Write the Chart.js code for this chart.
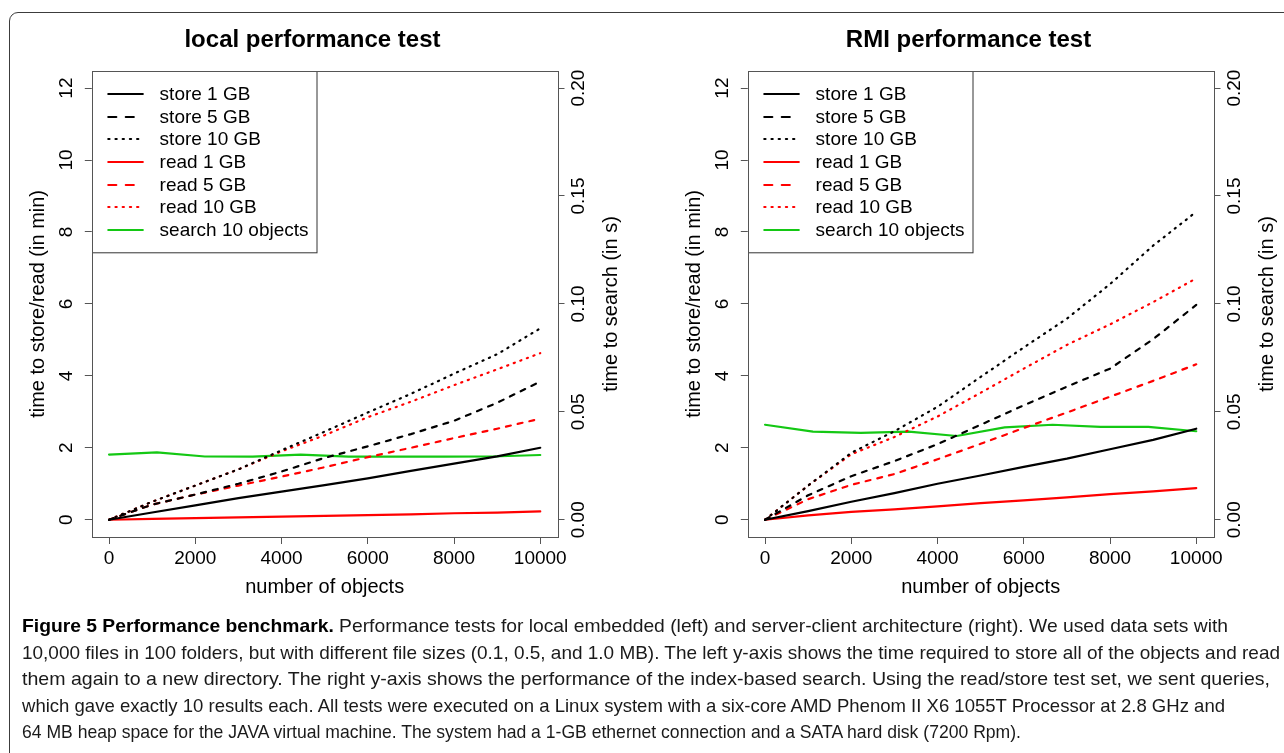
<!DOCTYPE html>
<html><head><meta charset="utf-8">
<script src="https://cdn.jsdelivr.net/npm/chart.js@4.4.1/dist/chart.umd.min.js"></script>
<style>
html,body{margin:0;padding:0;background:#fff;overflow:hidden;width:1284px;height:753px;}
#frame{position:absolute;left:9px;top:12px;width:1330px;height:800px;border:1.5px solid #3c3c3c;border-radius:9px;box-sizing:border-box;}
.panel{position:absolute;top:0;width:625px;height:620px;}
#p1{left:0px}
#p2{left:656px}
#caption{position:absolute;left:22px;top:613px;font-family:"Liberation Sans Narrow","Liberation Sans",Arial,sans-serif;font-size:18.5px;line-height:26.5px;color:#1a1a1a;}
#caption div{white-space:nowrap;transform-origin:0 0;}
#caption span.l{display:inline-block;white-space:nowrap;}
#caption b{color:#000;}
</style></head>
<body>
<div id="frame"></div>
<canvas id="p1" class="panel" width="625" height="620"></canvas>
<canvas id="p2" class="panel" width="625" height="620"></canvas>
<div id="caption">
<div><span class="l" data-w="1206"><b>Figure 5 Performance benchmark.</b> Performance tests for local embedded (left) and server-client architecture (right). We used data sets with</span></div>
<div><span class="l" data-w="1258">10,000 files in 100 folders, but with different file sizes (0.1, 0.5, and 1.0 MB). The left y-axis shows the time required to store all of the objects and read</span></div>
<div><span class="l" data-w="1248">them again to a new directory. The right y-axis shows the performance of the index-based search. Using the read/store test set, we sent queries,</span></div>
<div><span class="l" data-w="1203">which gave exactly 10 results each. All tests were executed on a Linux system with a six-core AMD Phenom II X6 1055T Processor at 2.8 GHz and</span></div>
<div><span class="l" data-w="999">64 MB heap space for the JAVA virtual machine. The system had a 1-GB ethernet connection and a SATA hard disk (7200 Rpm).</span></div>
</div>
<script>
// ---- data ----
const xObjects = [0,1000,2000,3000,4000,5000,6000,7000,8000,9000,10000];
const xSearch = [0,1111,2222,3333,4444,5556,6667,7778,8889,10000];
const xTicks = [0,2000,4000,6000,8000,10000];
const leftTicks = [0,2,4,6,8,10,12];
const rightTicks = [0,0.05,0.10,0.15,0.20];
const seriesLabels = ['store 1 GB','store 5 GB','store 10 GB','read 1 GB','read 5 GB','read 10 GB','search 10 objects'];
const panelTitles = ['local performance test','RMI performance test'];
const xTitle = 'number of objects';
const yTitle = 'time to store/read (in min)';
const y1Title = 'time to search (in s)';

// local (minutes / seconds)
const localStore1  = [0,0.20,0.40,0.60,0.78,0.96,1.15,1.36,1.56,1.76,2.00];
const localStore5  = [0,0.42,0.70,1.00,1.34,1.72,2.04,2.38,2.75,3.25,3.84];
const localStore10 = [0,0.50,0.95,1.40,1.93,2.45,2.98,3.50,4.06,4.60,5.32];
const localRead1   = [0,0.025,0.045,0.065,0.085,0.11,0.13,0.15,0.18,0.20,0.23];
const localRead5   = [0,0.42,0.70,0.95,1.20,1.46,1.74,2.00,2.27,2.53,2.81];
const localRead10  = [0,0.50,0.95,1.40,1.90,2.35,2.85,3.28,3.74,4.18,4.63];
const localSearch  = [0.0302,0.0312,0.0293,0.0292,0.0302,0.0292,0.0292,0.0292,0.0293,0.0300];
// RMI
const rmiStore1  = [0,0.24,0.50,0.74,1.00,1.23,1.47,1.70,1.96,2.22,2.53];
const rmiStore5  = [0,0.68,1.21,1.63,2.10,2.64,3.18,3.70,4.20,5.02,5.97];
const rmiStore10 = [0,0.95,1.86,2.46,3.14,3.97,4.79,5.59,6.55,7.62,8.56];
const rmiRead1   = [0,0.12,0.22,0.29,0.37,0.46,0.54,0.62,0.71,0.79,0.88];
const rmiRead5   = [0,0.57,0.97,1.27,1.68,2.11,2.55,2.98,3.42,3.86,4.32];
const rmiRead10  = [0,0.95,1.82,2.30,2.87,3.53,4.20,4.86,5.43,6.05,6.71];
const rmiSearch  = [0.0440,0.0408,0.0402,0.0408,0.0388,0.0428,0.0440,0.0430,0.0430,0.0410];

// ---- styles ----
const FONT = '"Liberation Sans", Arial, Helvetica, sans-serif';
const BLACK = '#000000', RED = '#ff0000', GREEN = '#14c814';
const SOLID = [], DASH = [5,7], DOT = [1.2,5.8];
const LDASH = [8,9.5], LDOT = [1.2,6];
const styleSpec = [
  {color:BLACK, dash:SOLID, ldash:SOLID},
  {color:BLACK, dash:DASH, ldash:LDASH},
  {color:BLACK, dash:DOT, ldash:LDOT},
  {color:RED, dash:SOLID, ldash:SOLID},
  {color:RED, dash:DASH, ldash:LDASH},
  {color:RED, dash:DOT, ldash:LDOT},
  {color:GREEN, dash:SOLID, ldash:SOLID}
];

function pairs(xs, ys){ return xs.map((x,i)=>({x:x, y:ys[i]})); }

const legendBox = {
  id:'legendBox',
  afterDatasetsDraw(chart){
    const ctx = chart.ctx, a = chart.chartArea;
    const w = 224.5, h = 181.3;
    ctx.save();
    ctx.fillStyle = '#fff';
    ctx.fillRect(a.left, a.top, w, h);
    ctx.strokeStyle = '#333'; ctx.lineWidth = 1;
    ctx.strokeRect(Math.round(a.left)+0.5, Math.round(a.top)+0.5, w, h);
    ctx.font = '19px ' + FONT;
    ctx.textBaseline = 'middle'; ctx.textAlign = 'left';
    chart.data.datasets.forEach((ds,i)=>{
      const y = Math.round(a.top + 23.3 + i*22.6);
      ctx.strokeStyle = ds.borderColor; ctx.lineWidth = 2.2; ctx.lineCap = 'round';
      ctx.setLineDash(ds.legendDash);
      ctx.beginPath(); ctx.moveTo(a.left+16.5, y); ctx.lineTo(a.left+51, y); ctx.stroke();
      ctx.setLineDash([]);
      ctx.fillStyle = '#000';
      ctx.fillText(ds.label, a.left+67.8, y+1);
    });
    ctx.restore();
  }
};
const frameBox = {
  id:'frameBox',
  afterDraw(chart){
    const ctx = chart.ctx, a = chart.chartArea;
    ctx.save();
    ctx.strokeStyle = '#555'; ctx.lineWidth = 1;
    ctx.strokeRect(Math.round(a.left)+0.5, Math.round(a.top)+0.5, Math.round(a.right-a.left), Math.round(a.bottom-a.top));
    // right axis title (reads bottom-to-top like the left one)
    ctx.fillStyle = '#000';
    ctx.font = '20px ' + FONT;
    ctx.textAlign = 'center'; ctx.textBaseline = 'middle';
    ctx.translate(a.right + 53.5, (a.top + a.bottom)/2);
    ctx.rotate(-Math.PI/2);
    ctx.fillText(y1Title, 0, 0);
    ctx.restore();
  }
};

function makeChart(id, title, s1, s5, s10, r1, r5, r10, srch){
  const seriesValues = [s1, s5, s10, r1, r5, r10];
  const datasets = seriesValues.map((vals,i)=>({
    label: seriesLabels[i], data: pairs(xObjects, vals), yAxisID:'y',
    borderColor: styleSpec[i].color, borderDash: styleSpec[i].dash, legendDash: styleSpec[i].ldash,
    borderWidth: 2.2, borderCapStyle: 'round', borderJoinStyle: 'round',
    pointRadius: 0, tension: 0, fill: false
  }));
  datasets.push({
    label: seriesLabels[6], data: pairs(xSearch, srch), yAxisID:'y1',
    borderColor: styleSpec[6].color, borderDash: styleSpec[6].dash, legendDash: styleSpec[6].ldash,
    borderWidth: 2.2, borderCapStyle: 'round', borderJoinStyle: 'round',
    pointRadius: 0, tension: 0, fill: false
  });
  const tickFont = {family: FONT, size: 19};
  const gridCfg = {display:true, drawOnChartArea:false, drawTicks:true, tickLength:7, color:'#555', lineWidth:1};
  return new Chart(document.getElementById(id), {
    type: 'line',
    data: {datasets},
    plugins: [legendBox, frameBox],
    options: {
      responsive:false, animation:false,
      layout:{padding:0},
      plugins:{
        legend:{display:false}, tooltip:{enabled:false},
        title:{display:true, text:title, color:'#000', font:{family:FONT, size:24, weight:'bold'}, padding:{top:26, bottom:16}}
      },
      scales:{
        x:{type:'linear', position:'bottom', min:-400, max:10400,
           afterBuildTicks: s=>{ s.ticks = xTicks.map(v=>({value:v})); },
           afterFit: s=>{ s.height = 83; },
           ticks:{font:tickFont, color:'#000', padding:3, maxRotation:0, minRotation:0, callback: v=>String(v)},
           grid: gridCfg, border:{display:false},
           title:{display:true, text:xTitle, color:'#000', font:{family:FONT, size:20}, padding:{top:0, bottom:21}}
        },
        y:{type:'linear', position:'left', min:-0.48, max:12.48,
           afterBuildTicks: s=>{ s.ticks = leftTicks.map(v=>({value:v})); },
           afterFit: s=>{ s.width = 91.8; },
           ticks:{font:tickFont, color:'#000', padding:7, minRotation:90, maxRotation:90, crossAlign:'center', callback: v=>String(v)},
           grid: gridCfg, border:{display:false},
           title:{display:true, text:yTitle, color:'#000', font:{family:FONT, size:20}, padding:{top:26.5, bottom:0}}
        },
        y1:{type:'linear', position:'right', min:-0.008, max:0.208,
           afterBuildTicks: s=>{ s.ticks = rightTicks.map(v=>({value:v})); },
           afterFit: s=>{ s.width = 625 - 557.5; },
           ticks:{font:tickFont, color:'#000', padding:-4, minRotation:90, maxRotation:90, crossAlign:'center', callback: v=>Number(v).toFixed(2)},
           grid: gridCfg, border:{display:false},
           title:{display:false}
        }
      }
    }
  });
}

makeChart('p1', panelTitles[0], localStore1, localStore5, localStore10, localRead1, localRead5, localRead10, localSearch);
makeChart('p2', panelTitles[1], rmiStore1, rmiStore5, rmiStore10, rmiRead1, rmiRead5, rmiRead10, rmiSearch);

// fit caption lines to the reference line lengths
document.querySelectorAll('#caption span.l').forEach(sp=>{
  const target = parseFloat(sp.dataset.w);
  const w = sp.getBoundingClientRect().width;
  if (w > 0) sp.parentElement.style.transform = 'scaleX(' + (target/w) + ')';
});
</script>
</body></html>
